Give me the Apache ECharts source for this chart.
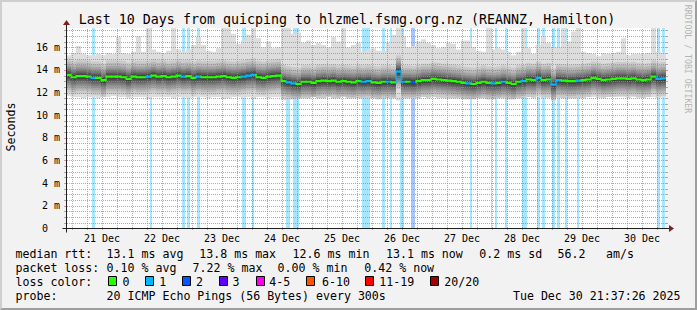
<!DOCTYPE html>
<html><head><meta charset="utf-8">
<script src="https://cdn.jsdelivr.net/npm/echarts@6/dist/echarts.min.js"></script>
<style>
html,body{margin:0;padding:0;background:#f2f2f2;}
#chart{position:absolute;left:0;top:0;width:697px;height:310px;}
#frame{position:absolute;left:0;top:0;width:697px;height:310px;box-sizing:border-box;border-top:2px solid #cfcfcf;border-left:2px solid #cfcfcf;border-right:2px solid #9e9e9e;border-bottom:2px solid #9e9e9e;pointer-events:none;}
</style></head><body>
<div id="chart"></div><div id="frame"></div>
<script>
// ---------------- data ----------------
const HOURS = 240;              // 10 days shown
const STEP = 2;                 // hours per smoke column
const FIRST_MIDNIGHT = 2.376;   // hours from graph start to 21 Dec 00:00
const Y_MAX = 17.7;             // ms
const dayLabels = ['21 Dec','22 Dec','23 Dec','24 Dec','25 Dec','26 Dec','27 Dec','28 Dec','29 Dec','30 Dec'];
const yTicks = [0,2,4,6,8,10,12,14,16];

// median rtt (ms) per 2-hour column
const median = [
13.55,13.35,13.45,13.45,13.4,13.3,13.3,13.1,13.4,13.4,
13.4,13.35,13.2,13.4,13.35,13.35,13.4,13.5,13.4,13.45,
13.35,13.4,13.5,13.4,13.45,13.3,13.4,13.35,13.35,13.35,
13.4,13.45,13.35,13.3,13.35,13.4,13.5,13.55,13.35,13.3,
13.4,13.45,13.5,13.0,12.9,12.8,12.75,12.95,12.95,12.85,
13.0,13.05,13.0,13.05,12.95,13.0,12.95,12.9,13.0,12.95,
13.0,12.9,12.85,12.95,12.95,12.9,13.85,12.95,12.95,12.9,
13.0,13.1,13.1,13.2,13.15,13.1,13.05,13.0,12.95,12.85,
12.8,12.75,12.85,12.95,12.85,12.8,12.85,12.95,12.85,12.75,
12.95,13.0,13.15,13.1,13.3,13.1,13.15,12.7,13.1,13.05,
13.0,13.0,13.05,13.1,13.15,13.3,13.2,13.1,13.15,13.2,
13.25,13.25,13.2,13.25,13.15,13.1,13.15,13.4,13.2,13.25];

// packets lost (of 20) in each column, picks the median colour
const medianLoss = [
0,0,0,0,0,1,0,0,0,0, 0,0,0,0,0,0,1,0,0,0, 0,0,0,1,0,0,1,0,0,0,
0,0,0,0,0,1,1,1,0,0, 0,0,0,0,1,1,0,0,0,0, 0,0,0,0,0,0,0,0,0,1,
1,0,0,0,1,0,1,1,0,2, 0,0,0,0,0,0,0,0,0,0, 1,0,0,0,0,1,0,1,0,0,
0,1,0,0,1,0,0,1,1,0, 0,0,1,0,0,0,0,0,0,0, 0,0,0,0,0,0,0,0,1,1];

// lowest and highest ping of each column (ms)
const smokeMin = [
11.7,11.6,11.6,11.5,11.6,11.6,11.5,11.6,11.6,11.7, 11.6,11.6,11.5,11.6,11.6,11.6,11.4,11.6,11.6,11.6,
11.6,11.5,11.6,11.6,11.5,11.6,11.6,11.6,11.5,11.6, 11.6,11.4,11.5,11.6,11.6,11.5,11.6,11.4,11.6,11.6,
11.5,11.6,11.6,11.3,11.4,11.4,11.5,11.5,11.5,11.6, 11.5,11.5,11.6,11.5,11.5,11.6,11.5,11.5,11.5,11.5,
11.5,11.5,11.4,11.5,11.5,11.5,11.3,11.5,11.5,11.5, 11.5,11.6,11.5,11.6,11.5,11.5,11.5,11.5,11.5,11.4,
11.4,11.4,11.5,11.5,11.4,11.4,11.5,11.5,11.4,11.4, 11.5,11.5,11.6,11.5,11.6,11.5,11.5,11.3,11.5,11.5,
11.5,11.5,11.5,11.5,11.6,11.6,11.5,11.5,11.6,11.6, 11.6,11.6,11.5,11.6,11.5,11.5,11.6,11.6,11.5,11.6];
const smokeMax = [
15.3,15.5,16.1,15.4,15.3,15.3,15.4,15.3,15.5,15.4, 16.9,15.5,15.4,15.6,17.0,15.6,17.7,15.8,15.6,15.5,
15.7,17.7,15.8,15.6,15.8,16.2,16.9,16.2,15.7,15.6, 15.9,17.7,17.7,17.2,16.3,16.6,17.1,17.7,16.8,16.0,
16.5,15.9,16.0,17.7,17.7,17.2,17.3,16.4,16.6,16.2, 16.4,16.2,16.0,16.9,16.5,17.7,16.0,16.2,16.4,15.6,
15.8,15.9,15.7,15.7,16.4,17.1,17.7,17.0,16.0,16.1, 16.5,16.7,16.4,16.2,15.9,16.0,16.4,16.3,15.8,16.6,
16.6,16.0,15.7,15.6,17.7,15.8,15.9,15.8,15.6,15.3, 15.6,17.7,15.9,15.4,16.2,17.0,16.4,16.0,16.0,17.7,
16.5,17.4,17.7,15.6,15.5,15.4,15.2,15.5,15.4,15.5, 15.6,16.8,15.3,15.4,15.4,15.4,15.5,17.7,15.6,15.4];
// typical spread of inner ping pairs below / above the median (ms)
const smokeSpread = [[1.55,1.45],[1.3,1.2],[1.1,0.95],[0.9,0.75],[0.72,0.6],[0.55,0.45],[0.4,0.32],[0.25,0.2],[0.12,0.1]];

// loss periods: [start hour, end hour, packets lost]
const lossEvents = [
[10.4,11.6,1],[33.6,34.4,1],[46.4,47.6,1],[48.4,49.6,1],[52.4,53.6,1],[70.4,72.0,1],[74.4,75.2,1],
[88.0,89.6,1],[90.8,93.2,1],[118.4,121.6,1],[126.4,127.6,1],[129.6,130.4,1],[133.6,135.2,1],[138.0,139.6,2],
[161.6,162.4,1],[170.0,170.4,1],[171.6,172.4,1],[175.6,176.4,1],[182.4,184.4,1],[188.4,189.6,1],[190.4,191.6,1],
[194.4,195.6,1],[196.4,197.6,1],[199.6,200.4,1],[204.4,205.2,1],[236.4,237.6,1],[238.4,239.6,1]];

const lossLabels = ['0','1','2','3','4-5','6-10','11-19','20/20'];
const titleText = 'Last 10 Days from quicping to hlzmel.fsmg.org.nz (REANNZ, Hamilton)';
const rttStats = ['median rtt:','13.1 ms avg','13.8 ms max','12.6 ms min','13.1 ms now','0.2 ms sd','56.2','am/s'];
const lossStats = ['packet loss:','0.10 % avg','7.22 % max','0.00 % min','0.42 % now'];
const probeText = ['probe:','20 ICMP Echo Pings (56 Bytes) every 300s','Tue Dec 30 21:37:26 2025'];

// ---------------- styles ----------------
const FONT = '"DejaVu Sans Mono", monospace';
const lossColors = ['#26ff00','#00b8ff','#0059ff','#5e00ff','#ff00ec','#ff5500','#ff0000','#a10000'];
const lossBg = ['rgba(0,0,0,0)','rgba(0,184,255,0.35)','rgba(0,89,255,0.35)'];
const shades = ['#dddddd','#cacaca','#b7b7b7','#a4a4a4','#919191','#7e7e7e','#6b6b6b','#585858','#454545','#323232'];
const GRIDC = 'rgba(143,143,143,0.75)';
const MGRIDC = 'rgba(222,79,79,0.6)';
const AXISC = '#1f1f1f';
const ARROWC = '#801f1f';

const noonHours = dayLabels.map((d,k)=>FIRST_MIDNIGHT+12+24*k);
const vMajor = dayLabels.map((d,k)=>FIRST_MIDNIGHT+24*k);
const vMinor = [];
for (let h=FIRST_MIDNIGHT-24; h<HOURS; h+=6) if (h>0 && !vMajor.some(m=>Math.abs(m-h)<1e-6)) vMinor.push(h);
const hMajor = yTicks.filter(v=>v>0);
const hMinor = [];
for (let v=0.5; v<Y_MAX; v+=0.5) if (v%2!==0) hMinor.push(v);
const gridData = hMinor.map(v=>[0,v]).concat(hMajor.map(v=>[1,v]), vMinor.map(v=>[2,v]), vMajor.map(v=>[3,v]));

function txt(text, x, y, size, align){
  align = align || 'left';
  return {type:'text', x:x, y:y, silent:true, style:{text:text, x:0, y:0, fill:'#000',
    fontSize:size, fontFamily:FONT, align:align, verticalAlign:'middle', textAlign:align, textVerticalAlign:'middle'}};
}
const graphics = [];
graphics.push(txt(titleText, 347, 19.5, 13.3, 'center'));
const sec = txt('Seconds', 11, 127, 11.6, 'center'); sec.rotation = Math.PI/2; graphics.push(sec);
const wm = txt('RRDTOOL / TOBI OETIKER', 687.5, 59, 8.2, 'center'); wm.rotation = -Math.PI/2; wm.style.fill = '#b4b4b4'; graphics.push(wm);
const LS = 11.6;
const rttX = [15.5,106.6,199.3,292.6,386,479.3,557.6,606];
rttStats.forEach((t,i)=>graphics.push(txt(t, rttX[i], 254.3, LS)));
const lossX = [15.5,106.6,192.6,277.6,364.3];
lossStats.forEach((t,i)=>graphics.push(txt(t, lossX[i], 268.3, LS)));
graphics.push(txt('loss color:', 15.5, 282.2, LS));
const boxX = [108,145,182,219,256,306,365,430];
const boxLabelX = [122.6,159.3,196,232.6,269.3,322,379.3,444.3];
lossLabels.forEach((t,i)=>{
  graphics.push({type:'rect', silent:true, shape:{x:boxX[i]+0.5, y:276.5, width:8, height:9}, style:{fill:lossColors[i], stroke:'#000', lineWidth:1}});
  graphics.push(txt(t, boxLabelX[i], 282.2, LS));
});
graphics.push(txt(probeText[0], 15.5, 296, LS));
graphics.push(txt(probeText[1], 106.6, 296, LS));
graphics.push(txt(probeText[2], 680.5, 296, LS, 'right'));

const chart = echarts.init(document.getElementById('chart'), null, {renderer:'svg', width:697, height:310});
chart.setOption({
  animation:false,
  backgroundColor:'#f2f2f2',
  grid:{left:66, right:31, top:28, bottom:81.7, show:true, backgroundColor:'#ffffff', borderWidth:0},
  xAxis:{type:'value', min:0, max:HOURS, axisLine:{show:false}, axisTick:{show:false}, splitLine:{show:false},
    axisLabel:{customValues:noonHours, margin:5, fontSize:10, fontFamily:FONT, color:'#000',
      formatter:v=>dayLabels[Math.round((v-FIRST_MIDNIGHT-12)/24)]}},
  yAxis:{type:'value', min:0, max:Y_MAX, interval:2, axisLine:{show:false}, axisTick:{show:false}, splitLine:{show:false},
    axisLabel:{customValues:yTicks, margin:6, fontSize:10, fontFamily:FONT, color:'#000',
      formatter:v=>v===0?'0\u00a0\u00a0':v+' m'}},
  graphic:graphics,
  series:[
    {type:'custom', name:'loss', z:1, silent:true, clip:true, data:lossEvents,
     renderItem:(p,api)=>{
       const a=api.coord([api.value(0),Y_MAX]), b=api.coord([api.value(1),0]);
       return {type:'rect', shape:{x:a[0],y:a[1],width:b[0]-a[0],height:b[1]-a[1]}, style:{fill:lossBg[api.value(2)]}};
     }},
    {type:'custom', name:'smoke', z:2, silent:true, clip:true, data:shades.map((s,k)=>[k*10,5]),
     renderItem:(p,api)=>{
       const k=p.dataIndex, top=[], bot=[];
       for (let i=0;i<median.length;i++){
         let lo,hi;
         if (k===0){lo=smokeMin[i];hi=smokeMax[i];}
         else {const s=smokeSpread[k-1]; lo=Math.max(smokeMin[i],median[i]-s[0]); hi=Math.min(smokeMax[i],median[i]+s[1]);}
         const t0=i*STEP, t1=(i+1)*STEP;
         top.push(api.coord([t0,hi]), api.coord([t1,hi]));
         bot.push(api.coord([t0,lo]), api.coord([t1,lo]));
       }
       return {type:'polygon', shape:{points:top.concat(bot.reverse())}, style:{fill:shades[k]}};
     }},
    {type:'custom', name:'median', z:4, silent:true, clip:true, data:median.map((m,i)=>[i*STEP+1,m]),
     renderItem:(p,api)=>{
       const i=p.dataIndex, col=lossColors[medianLoss[i]];
       const a=api.coord([i*STEP,median[i]]), b=api.coord([(i+1)*STEP,median[i]]);
       const ch=[{type:'rect', shape:{x:a[0],y:a[1]-1.1,width:b[0]-a[0],height:2.2}, style:{fill:col}}];
       if (i>0){
         const c=api.coord([i*STEP,median[i-1]]);
         const y0=Math.min(c[1],a[1])-1.1, y1=Math.max(c[1],a[1])+1.1;
         ch.push({type:'rect', shape:{x:a[0]-0.5,y:y0,width:1.2,height:y1-y0}, style:{fill:col}});
       }
       return {type:'group', children:ch};
     }},
    {type:'custom', name:'grid', z:3, silent:true, clip:false, data:gridData,
     renderItem:(p,api)=>{
       const kind=api.value(0), v=api.value(1);
       const col=(kind===1||kind===3)?MGRIDC:GRIDC;
       if (kind<2){
         const a=api.coord([0,v]), b=api.coord([HOURS,v]); const y=Math.round(a[1])+0.5;
         const x0=Math.round(a[0]), x1=Math.round(b[0]);
         return {type:'group', children:[
           {type:'line', shape:{x1:x0-2,y1:y,x2:x0,y2:y}, style:{stroke:col,lineWidth:1}},
           {type:'line', shape:{x1:x0+1,y1:y,x2:x1,y2:y}, style:{stroke:col,lineWidth:1,lineDash:[1,1]}},
           {type:'line', shape:{x1:x1,y1:y,x2:x1+2,y2:y}, style:{stroke:col,lineWidth:1}}]};
       } else {
         const a=api.coord([v,0]), b=api.coord([v,Y_MAX]); const x=Math.round(a[0])+0.5;
         const y0=Math.round(a[1]), y1=Math.round(b[1]);
         return {type:'group', children:[
           {type:'line', shape:{x1:x,y1:y0+2,x2:x,y2:y0}, style:{stroke:col,lineWidth:1}},
           {type:'line', shape:{x1:x,y1:y0,x2:x,y2:y1}, style:{stroke:col,lineWidth:1,lineDash:[1,1]}}]};
       }
     }},
    {type:'custom', name:'axes', z:5, silent:true, clip:false, data:[[0,0]],
     renderItem:(p,api)=>{
       const o=api.coord([0,0]), xe=api.coord([HOURS,0]), ye=api.coord([0,Y_MAX]);
       const ox=Math.round(o[0])+0.5, oy=Math.round(o[1])+0.5, xr=Math.round(xe[0]), yt=Math.round(ye[1]);
       return {type:'group', children:[
         {type:'line', shape:{x1:ox-4,y1:oy,x2:xr+3,y2:oy}, style:{stroke:AXISC,lineWidth:1}},
         {type:'line', shape:{x1:ox,y1:oy+4,x2:ox,y2:yt-3}, style:{stroke:AXISC,lineWidth:1}},
         {type:'polygon', shape:{points:[[xr+3,oy-3.5],[xr+8,oy],[xr+3,oy+3.5]]}, style:{fill:ARROWC}},
         {type:'polygon', shape:{points:[[ox-3.5,yt-3],[ox,yt-8],[ox+3.5,yt-3]]}, style:{fill:ARROWC}}]};
     }}
  ]
});
</script></body></html>
